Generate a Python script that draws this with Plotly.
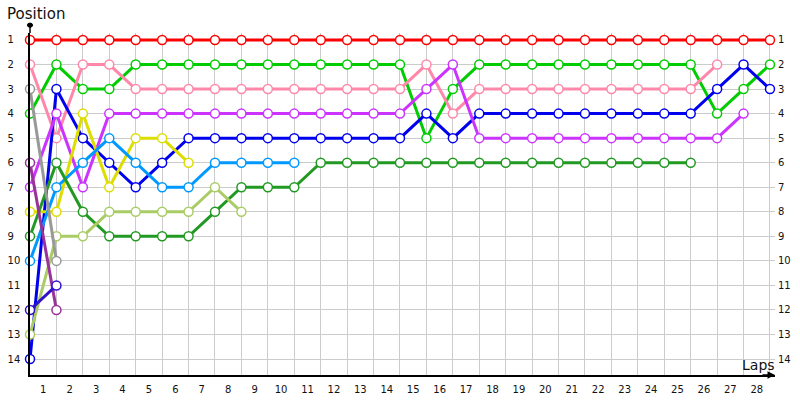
import plotly.graph_objects as go

laps = list(range(0, 29))
lap_labels = [str(i) for i in range(1, 29)]
positions = list(range(1, 15))

red = [1, 1, 1, 1, 1, 1, 1, 1, 1, 1, 1, 1, 1, 1, 1, 1, 1, 1, 1, 1, 1, 1, 1, 1, 1, 1, 1, 1, 1]
green = [4, 2, 3, 3, 2, 2, 2, 2, 2, 2, 2, 2, 2, 2, 2, 5, 3, 2, 2, 2, 2, 2, 2, 2, 2, 2, 4, 3, 2]
pink = [2, 5, 2, 2, 3, 3, 3, 3, 3, 3, 3, 3, 3, 3, 3, 2, 4, 3, 3, 3, 3, 3, 3, 3, 3, 3, 2]
blue = [14, 3, 5, 6, 7, 6, 5, 5, 5, 5, 5, 5, 5, 5, 5, 4, 5, 4, 4, 4, 4, 4, 4, 4, 4, 4, 3, 2, 3]
purple = [7, 4, 7, 4, 4, 4, 4, 4, 4, 4, 4, 4, 4, 4, 4, 3, 2, 5, 5, 5, 5, 5, 5, 5, 5, 5, 5, 4]
yellow = [8, 8, 4, 7, 5, 5, 6]
light_blue = [10, 7, 6, 5, 6, 7, 7, 6, 6, 6, 6]
dark_green = [9, 6, 8, 9, 9, 9, 9, 8, 7, 7, 7, 6, 6, 6, 6, 6, 6, 6, 6, 6, 6, 6, 6, 6, 6, 6]
olive = [13, 9, 9, 8, 8, 8, 8, 7, 8]
gray = [3, 10]
dark_purple = [6, 12]
indigo = [12, 11]

series = [
    ("red", red, "#FF0000"),
    ("green", green, "#00CC00"),
    ("pink", pink, "#FF88AA"),
    ("blue", blue, "#0000EE"),
    ("purple", purple, "#CC33FF"),
    ("yellow", yellow, "#DDDD00"),
    ("light_blue", light_blue, "#0099FF"),
    ("dark_green", dark_green, "#229922"),
    ("olive", olive, "#AACC66"),
    ("gray", gray, "#999999"),
    ("dark_purple", dark_purple, "#993399"),
    ("indigo", indigo, "#3311CC"),
]

fig = go.Figure()
for name, vals, col in series:
    fig.add_trace(go.Scatter(
        x=laps[:len(vals)], y=vals, mode="lines+markers", name=name,
        line=dict(color=col, width=3),
        marker=dict(symbol="circle", size=9, color="white", line=dict(color=col, width=1.5)),
        cliponaxis=False, hoverinfo="skip", showlegend=False,
    ))

# invisible trace for right axis
fig.add_trace(go.Scatter(x=[laps[0]], y=[positions[0]], yaxis="y2", mode="markers",
                         marker=dict(opacity=0), showlegend=False, hoverinfo="skip"))

font = dict(family="DejaVu Sans", size=10, color="#111111")
yr = [14.65, 0.715]
fig.update_layout(
    width=800, height=400,
    margin=dict(l=30, r=25, t=33, b=25),
    paper_bgcolor="white", plot_bgcolor="white",
    xaxis=dict(
        range=[0, 28.19], automargin=False,
        tickmode="array", tickvals=[i + 0.5 for i in range(28)], ticktext=lap_labels,
        showgrid=False, zeroline=False, ticks="", tickfont=font, ticklabelstandoff=4,
        showline=True, linecolor="black", linewidth=1.5,
        minor=dict(tickmode="linear", tick0=0, dtick=1, showgrid=True,
                   gridcolor="#CCCCCC", gridwidth=1, ticks=""),
    ),
    yaxis=dict(
        range=yr, automargin=False, tickmode="array", tickvals=positions,
        ticktext=[(str(p) + "\u2007") if p < 10 else str(p) for p in positions],
        showgrid=True, gridcolor="#CCCCCC", gridwidth=1, zeroline=False,
        ticks="", tickfont=font, ticklabelstandoff=6,
        showline=True, linecolor="black", linewidth=1.5,
    ),
    yaxis2=dict(
        range=yr, automargin=False, overlaying="y", side="right", tickmode="array",
        tickvals=positions, ticktext=[str(p) for p in positions], showgrid=False,
        zeroline=False, ticks="", tickfont=font, ticklabelstandoff=2, showline=False,
    ),
    shapes=[
        dict(type="line", xref="paper", yref="paper", x0=0, x1=0, y0=1, y1=1.023,
             line=dict(color="black", width=1.5)),
        dict(type="circle", xref="paper", yref="paper", x0=-0.0035, x1=0.0035,
             y0=1.017, y1=1.029, fillcolor="black", line=dict(color="black", width=1)),
    ],
    annotations=[
        dict(text="Position", xref="paper", yref="paper", x=-0.034, y=1.056,
             xanchor="left", yanchor="middle", showarrow=False,
             font=dict(family="DejaVu Sans", size=15, color="#111111")),
        dict(text="Laps", xref="paper", yref="paper", x=0.953, y=0.03,
             xanchor="left", yanchor="middle", showarrow=False,
             font=dict(family="DejaVu Sans", size=14, color="#111111")),
        dict(text="", xref="paper", yref="paper", x=1.0, y=0, ax=-14, ay=0,
             showarrow=True, arrowhead=2, arrowsize=1, arrowwidth=1.5, arrowcolor="black"),
    ],
)

fig.write_html("out.html", config={"displayModeBar": False},
               post_script="document.body.style.margin='0';document.body.style.overflow='hidden';")
